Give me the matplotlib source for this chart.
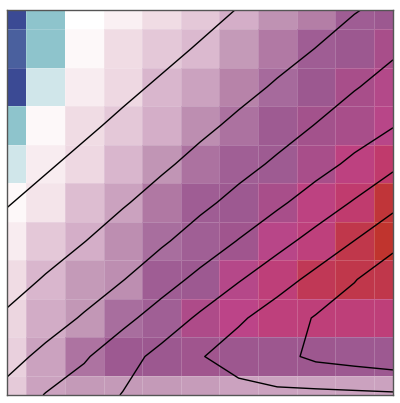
import numpy as np
import matplotlib
matplotlib.use("Agg")
import matplotlib.pyplot as plt
from matplotlib.colors import LinearSegmentedColormap

# grid nodes (columns left->right, rows top->bottom)
cols = np.arange(11)
rows = np.arange(11)

# cell colour values
heat = np.array([
    [-3.0, -2.0, 0.0, 1.0, 2.0, 3.0, 4.0, 5.3, 6.0, 7.7, 8.0],
    [-2.8, -2.0, 0.5, 2.0, 3.0, 3.6, 5.0, 6.2, 7.7, 8.0, 9.0],
    [-3.0, -1.0, 1.2, 2.2, 3.7, 4.6, 5.8, 7.0, 8.0, 9.0, 9.5],
    [-2.0, 0.5, 2.0, 3.0, 4.0, 5.4, 6.6, 7.8, 8.6, 9.0, 9.8],
    [-1.0, 1.2, 2.2, 3.7, 5.2, 6.6, 7.6, 7.8, 9.0, 10.3, 11.0],
    [0.5, 1.6, 3.4, 4.6, 6.3, 7.7, 7.9, 9.0, 10.2, 10.9, 11.8],
    [1.2, 3.0, 4.0, 5.4, 6.8, 7.6, 8.3, 9.8, 10.4, 11.5, 12.0],
    [2.0, 3.7, 5.0, 5.4, 7.7, 7.9, 9.6, 10.5, 11.3, 11.5, 11.5],
    [2.3, 4.1, 5.1, 6.8, 7.6, 9.3, 10.0, 10.4, 10.5, 10.5, 10.5],
    [2.6, 4.6, 6.5, 7.9, 8.0, 8.3, 8.1, 8.1, 8.1, 7.9, 7.9],
    [2.9, 4.6, 5.0, 5.0, 5.0, 4.9, 4.6, 4.6, 4.6, 4.6, 4.6],
])

# field behind the contour lines
field = np.array([
    [-0.83, -0.52, -0.21, 0.10, 0.41, 0.72, 1.03, 1.34, 1.65, 1.95, 2.26],
    [-0.48, -0.17, 0.14, 0.45, 0.76, 1.07, 1.39, 1.70, 2.01, 2.40, 2.85],
    [-0.13, 0.18, 0.49, 0.81, 1.12, 1.44, 1.75, 2.09, 2.51, 2.94, 3.36],
    [0.22, 0.54, 0.85, 1.17, 1.49, 1.81, 2.17, 2.60, 3.03, 3.51, 3.95],
    [0.58, 0.90, 1.22, 1.54, 1.86, 2.25, 2.69, 3.14, 3.65, 4.20, 4.81],
    [0.95, 1.27, 1.60, 1.92, 2.33, 2.78, 3.28, 3.83, 4.44, 5.08, 5.74],
    [1.32, 1.65, 1.98, 2.42, 2.87, 3.43, 4.04, 4.68, 5.34, 6.01, 6.70],
    [1.69, 2.06, 2.51, 2.97, 3.59, 4.25, 4.93, 5.60, 6.27, 6.95, 7.66],
    [2.11, 2.59, 3.09, 3.74, 4.43, 5.15, 5.85, 6.48, 7.07, 7.54, 8.00],
    [2.68, 3.23, 3.89, 4.61, 5.29, 5.93, 6.50, 6.71, 7.20, 7.40, 7.61],
    [3.28, 4.05, 4.50, 5.04, 5.30, 5.45, 5.61, 5.81, 5.77, 5.81, 5.86],
])
levels = [1, 2, 3, 4, 5, 6, 7]

# colormap anchors
cmap_vals = [-3, -2, -1, 0, 1, 2, 3, 4, 5, 6, 7, 8, 9, 10, 11, 12]
cmap_cols = ["#3b4a94", "#8ec4cc", "#d0e6ea", "#ffffff", "#faf0f3", "#f0dce4",
             "#e4c8d8", "#d4aec8", "#c49ab8", "#b47ea6", "#a66a9c", "#9c5890",
             "#a84e8a", "#bc4488", "#c03a6c", "#c0342e"]
lo, hi = cmap_vals[0], cmap_vals[-1]
cmap = LinearSegmentedColormap.from_list(
    "custom", [((v - lo) / (hi - lo), c) for v, c in zip(cmap_vals, cmap_cols)])

fig = plt.figure(figsize=(4, 4.03), dpi=100)
ax = fig.add_axes([7 / 400, 8 / 403, 386 / 400, 385 / 403])

ax.pcolormesh(cols, rows, heat, cmap=cmap, vmin=lo, vmax=hi, shading="nearest",
              edgecolors=(1, 1, 1, 0.18), linewidth=0.6)
ax.contour(cols, rows, field, levels=levels, colors="black", linewidths=1.0)

ax.set_xlim(0, 10)
ax.set_ylim(10, 0)
ax.set_xticks([])
ax.set_yticks([])
for s in ax.spines.values():
    s.set_color("#555555")
    s.set_linewidth(1.0)

fig.savefig("out.png", dpi=100)
